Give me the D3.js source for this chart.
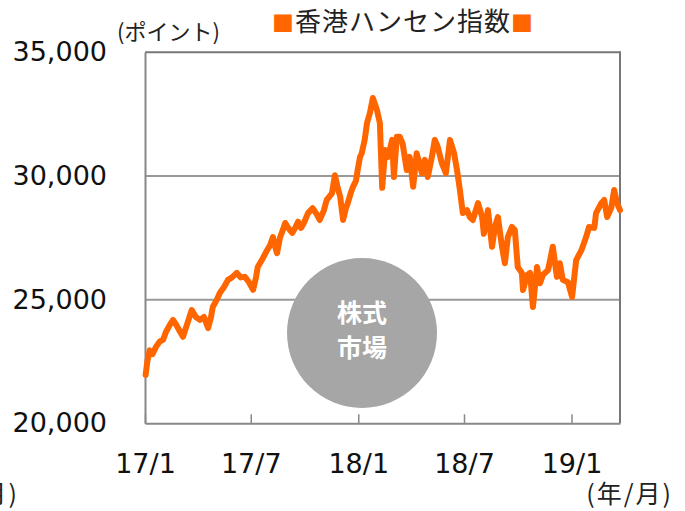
<!DOCTYPE html>
<html><head><meta charset="utf-8">
<script src="https://cdn.jsdelivr.net/npm/d3@7"></script>
<style>
html,body{margin:0;padding:0;background:#fff;}
svg{display:block;}
</style></head>
<body>
<svg id="chart" width="685" height="511"></svg>
<script>
const title = "香港ハンセン指数";
const yUnit = "(ポイント)";
const xUnit = "(年/月)";
const badgeLines = ["株式", "市場"];
const yTicks = [20000, 25000, 30000, 35000];
const xTickDates = ["2017-01-01", "2017-07-01", "2018-01-01", "2018-07-01", "2019-01-01"];
const xTickLabels = ["17/1", "17/7", "18/1", "18/7", "19/1"];
const dates = [
"2017-01-02","2017-01-05","2017-01-09","2017-01-14","2017-01-20","2017-01-26","2017-02-01","2017-02-06","2017-02-13","2017-02-18",
"2017-02-23","2017-03-02","2017-03-07","2017-03-14","2017-03-22","2017-03-29","2017-04-05","2017-04-12","2017-04-19","2017-04-24",
"2017-04-27","2017-05-04","2017-05-09","2017-05-16","2017-05-23","2017-05-30","2017-06-07","2017-06-14","2017-06-21","2017-06-28",
"2017-07-05","2017-07-10","2017-07-13","2017-07-20","2017-07-29","2017-08-03","2017-08-08","2017-08-11","2017-08-15","2017-08-20",
"2017-08-25","2017-08-29","2017-09-03","2017-09-10","2017-09-15","2017-09-20","2017-09-25","2017-09-30","2017-10-07","2017-10-15",
"2017-10-22","2017-10-27","2017-11-03","2017-11-08","2017-11-17","2017-11-22","2017-11-27","2017-12-01","2017-12-06","2017-12-11",
"2017-12-14","2017-12-19","2017-12-23","2017-12-28","2017-12-31","2018-01-04","2018-01-07","2018-01-12","2018-01-16","2018-01-21",
"2018-01-26","2018-02-02","2018-02-07","2018-02-11","2018-02-16","2018-02-21","2018-02-28","2018-03-03","2018-03-08","2018-03-13",
"2018-03-18","2018-03-25","2018-03-30","2018-04-05","2018-04-11","2018-04-20","2018-04-25","2018-04-30","2018-05-07","2018-05-12",
"2018-05-17","2018-05-24","2018-05-31","2018-06-07","2018-06-14","2018-06-19","2018-06-24","2018-06-29","2018-07-06","2018-07-11",
"2018-07-16","2018-07-25","2018-08-01","2018-08-04","2018-08-11","2018-08-18","2018-08-23","2018-08-28","2018-09-04","2018-09-09",
"2018-09-14","2018-09-21","2018-09-26","2018-10-01","2018-10-08","2018-10-10","2018-10-17","2018-10-22","2018-10-27","2018-11-03",
"2018-11-08","2018-11-13","2018-11-22","2018-11-30","2018-12-07","2018-12-12","2018-12-17","2018-12-26","2019-01-02","2019-01-09",
"2019-01-18","2019-01-26","2019-01-31","2019-02-09","2019-02-12","2019-02-21","2019-02-26","2019-03-03","2019-03-10","2019-03-15",
"2019-03-20","2019-03-25"
];
const values = [
21950,22500,22950,22800,23100,23300,23380,23700,24000,24180,
24000,23700,23500,24000,24580,24300,24180,24300,23850,24300,
24700,25000,25270,25500,25800,25900,26080,25900,25920,25700,
25400,25900,26320,26600,27000,27200,27530,27200,26880,27500,
27820,28100,27900,27700,27900,28150,27900,28100,28500,28700,
28450,28220,28600,29030,29300,30030,29500,29170,28220,28700,
28900,29300,29560,29800,30240,30770,30920,31460,32140,32550,
33150,32670,32140,29520,31050,30770,31460,29960,31590,31590,
31300,30240,30770,29560,30920,30110,30650,29960,30770,31460,
31180,30520,30110,31460,30920,30240,29430,28500,28620,28340,
28220,28900,28340,27660,28620,27140,27940,28340,27140,26470,
27530,27940,27810,26320,26080,25390,26000,26080,24700,26320,
25660,26000,26200,27140,25920,26470,25800,25700,25110,26600,
27000,27530,27940,27900,28500,28900,29030,28340,28700,29430,
28900,28620
];

const parse = d3.timeParse("%Y-%m-%d");
const data = dates.map((d, i) => ({date: parse(d), value: values[i]}));

const svg = d3.select("#chart");
const pLeft = 145, pRight = 620, pTop = 52.3, pBottom = 423.3;
const x = d3.scaleTime().domain([parse("2017-01-01"), parse("2019-03-25")]).range([pLeft, pRight]);
const y = d3.scaleLinear().domain([20000, 35000]).range([pBottom, pTop]);

const numFont = "'DejaVu Sans', Verdana, sans-serif";
const jpFont = "'Noto Sans CJK JP', 'Noto Sans', sans-serif";

// gridlines
svg.append("g").selectAll("line").data(yTicks.filter(v => v > 20000 && v < 35000)).join("line")
  .attr("x1", pLeft).attr("x2", pRight)
  .attr("y1", d => y(d)).attr("y2", d => y(d))
  .attr("stroke", "#999").attr("stroke-width", 2);

// frame
svg.append("line").attr("x1", pLeft).attr("x2", pRight).attr("y1", y(35000)).attr("y2", y(35000)).attr("stroke", "#777").attr("stroke-width", 2);
svg.append("line").attr("x1", pRight).attr("x2", pRight).attr("y1", pTop - 1).attr("y2", pBottom).attr("stroke", "#777").attr("stroke-width", 2);

// badge circle
const bx = 362, by = 333;
svg.append("circle").attr("cx", bx).attr("cy", by).attr("r", 75).attr("fill", "#a6a6a6");
svg.append("g").selectAll("text").data(badgeLines).join("text")
  .attr("x", bx).attr("y", (d, i) => 322 + i * 35)
  .attr("text-anchor", "middle")
  .attr("font-family", jpFont).attr("font-weight", "bold").attr("font-size", 25)
  .attr("fill", "#fff").text(d => d);

// y axis
const yAxis = d3.axisLeft(y).tickValues(yTicks).tickSize(0).tickPadding(38).tickFormat(d3.format(","));
const gy = svg.append("g").attr("transform", `translate(${pLeft},0)`).call(yAxis);
gy.select(".domain").attr("stroke", "#888").attr("stroke-width", 2);
gy.selectAll("text").attr("font-family", numFont).attr("font-size", 27).attr("fill", "#111");

// x axis
const xAxis = d3.axisBottom(x).tickValues(xTickDates.map(parse)).tickSizeInner(-9).tickSizeOuter(0)
  .tickFormat((d, i) => xTickLabels[i]);
const gx = svg.append("g").attr("transform", `translate(0,${pBottom})`).call(xAxis);
gx.select(".domain").attr("stroke", "#888").attr("stroke-width", 2);
gx.selectAll(".tick line").attr("stroke", "#888").attr("stroke-width", 1.5);
gx.selectAll("text").attr("y", 50).attr("dy", 0)
  .attr("font-family", numFont).attr("font-size", 27).attr("fill", "#111");

// line
const line = d3.line().x(d => x(d.date)).y(d => y(d.value));
svg.append("path").datum(data).attr("d", line)
  .attr("fill", "none").attr("stroke", "#ff6600").attr("stroke-width", 6)
  .attr("stroke-linejoin", "round").attr("stroke-linecap", "round");

// title
const tg = svg.append("text").attr("x", 403).attr("y", 31).attr("text-anchor", "middle")
  .attr("font-family", jpFont).attr("font-size", 26).attr("letter-spacing", 1).attr("fill", "#222");
tg.append("tspan").attr("fill", "#ff6600").attr("font-size", 22).text("■");
tg.append("tspan").text(title);
tg.append("tspan").attr("fill", "#ff6600").attr("font-size", 22).text("■");

// units
svg.append("text").attr("x", 117).attr("y", 40).attr("font-family", jpFont).attr("font-size", 22).attr("fill", "#222").text(yUnit);
svg.append("text").attr("x", 673).attr("y", 503).attr("text-anchor", "end").attr("letter-spacing", 2)
  .attr("font-family", jpFont).attr("font-size", 25).attr("fill", "#222").text(xUnit);
svg.append("text").attr("x", 19).attr("y", 503).attr("text-anchor", "end").attr("letter-spacing", 2)
  .attr("font-family", jpFont).attr("font-size", 25).attr("fill", "#222").text(xUnit);
</script>
</body></html>
